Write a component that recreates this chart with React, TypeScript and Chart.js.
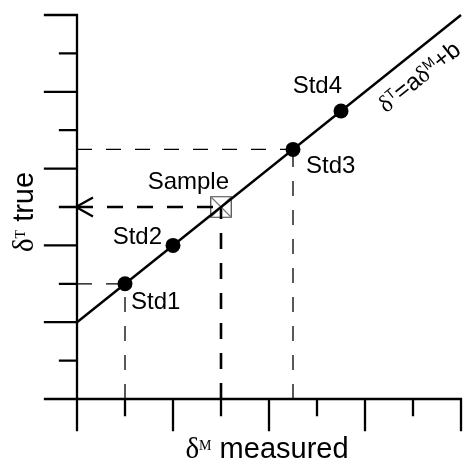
import { useEffect, useRef } from 'react';
import { Chart, registerables } from 'chart.js';

Chart.register(...registerables);

// ---- data ----
const xMajorTicks = [0, 2, 4, 6, 8];
const xMinorTicks = [1, 3, 5, 7];
const yMajorTicks = [0, 2, 4, 6, 8, 10];
const yMinorTicks = [1, 3, 5, 7, 9];

const stdLabels = ['Std1', 'Std2', 'Std3', 'Std4'];
const stdX = [1, 2, 4.5, 5.5];
const stdY = [3, 4, 6.5, 7.5];
const guidedStd = [0, 2];

const sampleLabel = 'Sample';
const sampleX = [3];
const sampleY = [5];

const fitX = [0, 8];
const fitY = [2, 10];
const fitLabelAt = 6.84;

// ---- styles (pixel offsets for text) ----
const SANS = '"Liberation Sans", Arial, sans-serif';
const SERIF = '"Liberation Serif", "Times New Roman", serif';
const stdLabelOffsets: { dx: number; dy: number; align: CanvasTextAlign }[] = [
  { dx: 6, dy: 25, align: 'left' },
  { dx: -11, dy: -1, align: 'right' },
  { dx: 13, dy: 24, align: 'left' },
  { dx: 1, dy: -18, align: 'right' },
];
const sampleLabelOffset = { dx: 8, dy: -18, align: 'right' as CanvasTextAlign };

type Seg = { t: string; font: string; dy?: number };

function drawRich(ctx: CanvasRenderingContext2D, segs: Seg[], x: number, y: number, align: 'left' | 'center' | 'right') {
  let w = 0;
  const widths = segs.map((s) => {
    ctx.font = s.font;
    const m = ctx.measureText(s.t).width;
    w += m;
    return m;
  });
  let cx = align === 'left' ? x : align === 'center' ? x - w / 2 : x - w;
  ctx.textAlign = 'left';
  ctx.textBaseline = 'alphabetic';
  segs.forEach((s, i) => {
    ctx.font = s.font;
    ctx.fillText(s.t, cx, y + (s.dy || 0));
    cx += widths[i];
  });
}

const pts = (xs: number[], ys: number[]) => xs.map((x, i) => ({ x, y: ys[i] }));

const axesPlugin = {
  id: 'customAxes',
  beforeDatasetsDraw(chart: any) {
    const ctx: CanvasRenderingContext2D = chart.ctx;
    const xs = chart.scales.x;
    const ys = chart.scales.y;
    const x0 = xs.getPixelForValue(xs.min);
    const x1 = xs.getPixelForValue(xs.max);
    const y0 = ys.getPixelForValue(ys.min);
    const y1 = ys.getPixelForValue(ys.max);
    ctx.save();
    ctx.strokeStyle = '#000';
    ctx.lineWidth = 2.3;
    ctx.lineCap = 'square';
    ctx.beginPath();
    ctx.moveTo(x0, y1);
    ctx.lineTo(x0, y0);
    ctx.lineTo(x1, y0);
    xMajorTicks.forEach((v) => {
      const p = xs.getPixelForValue(v);
      ctx.moveTo(p, y0);
      ctx.lineTo(p, y0 + 31);
    });
    xMinorTicks.forEach((v) => {
      const p = xs.getPixelForValue(v);
      ctx.moveTo(p, y0);
      ctx.lineTo(p, y0 + 16);
    });
    yMajorTicks.forEach((v) => {
      const p = ys.getPixelForValue(v);
      ctx.moveTo(x0, p);
      ctx.lineTo(x0 - 32, p);
    });
    yMinorTicks.forEach((v) => {
      const p = ys.getPixelForValue(v);
      ctx.moveTo(x0, p);
      ctx.lineTo(x0 - 17, p);
    });
    ctx.stroke();
    // arrow head at y axis for the sample
    const ay = ys.getPixelForValue(sampleY[0]);
    ctx.lineCap = 'butt';
    ctx.beginPath();
    ctx.moveTo(x0 + 16, ay - 9.5);
    ctx.lineTo(x0 - 1, ay);
    ctx.lineTo(x0 + 16, ay + 9.5);
    ctx.stroke();
    ctx.restore();
  },
  afterDatasetsDraw(chart: any) {
    const ctx: CanvasRenderingContext2D = chart.ctx;
    const xs = chart.scales.x;
    const ys = chart.scales.y;
    ctx.save();
    ctx.fillStyle = '#000';
    const f24 = `24px ${SANS}`;
    stdLabels.forEach((lab, i) => {
      const o = stdLabelOffsets[i];
      ctx.font = f24;
      ctx.textAlign = o.align;
      ctx.textBaseline = 'alphabetic';
      ctx.fillText(lab, xs.getPixelForValue(stdX[i]) + o.dx, ys.getPixelForValue(stdY[i]) + o.dy);
    });
    ctx.textAlign = sampleLabelOffset.align;
    ctx.fillText(sampleLabel, xs.getPixelForValue(sampleX[0]) + sampleLabelOffset.dx, ys.getPixelForValue(sampleY[0]) + sampleLabelOffset.dy);

    // fit label along the line
    const slope = (fitY[1] - fitY[0]) / (fitX[1] - fitX[0]);
    const lx = fitLabelAt;
    const ly = fitY[0] + slope * (lx - fitX[0]);
    const px = xs.getPixelForValue(lx);
    const py = ys.getPixelForValue(ly);
    const ex = xs.getPixelForValue(fitX[1]) - xs.getPixelForValue(fitX[0]);
    const ey = ys.getPixelForValue(fitY[1]) - ys.getPixelForValue(fitY[0]);
    const ang = Math.atan2(ey, ex);
    ctx.save();
    ctx.translate(px, py);
    ctx.rotate(ang);
    drawRich(
      ctx,
      [
        { t: 'δ', font: `24px ${SERIF}` },
        { t: 'T', font: `14px ${SANS}`, dy: -8 },
        { t: '=a', font: `24px ${SANS}` },
        { t: 'δ', font: `24px ${SERIF}` },
        { t: 'M', font: `14px ${SANS}`, dy: -8 },
        { t: '+b', font: `24px ${SANS}` },
      ],
      0,
      30,
      'center'
    );
    ctx.restore();

    // x axis title
    drawRich(
      ctx,
      [
        { t: 'δ', font: `29px ${SERIF}` },
        { t: 'M', font: `14px ${SERIF}`, dy: -8 },
        { t: ' measured', font: `29px ${SANS}` },
      ],
      267,
      458,
      'center'
    );
    // y axis title
    ctx.save();
    ctx.translate(33, 212);
    ctx.rotate(-Math.PI / 2);
    drawRich(
      ctx,
      [
        { t: 'δ', font: `29px ${SERIF}` },
        { t: 'T', font: `14px ${SERIF}`, dy: -8 },
        { t: ' true', font: `29px ${SANS}` },
      ],
      0,
      0,
      'center'
    );
    ctx.restore();
    ctx.restore();
  },
};

export default function App() {
  const ref = useRef<HTMLCanvasElement | null>(null);
  useEffect(() => {
    if (!ref.current) return;
    const thin = { borderColor: '#000', borderWidth: 1.3, borderDash: [15, 14], pointRadius: 0, showLine: true, fill: false, clip: false as any, order: 5 };
    const thick = { borderColor: '#000', borderWidth: 2.6, borderDash: [16, 14], pointRadius: 0, showLine: true, fill: false, clip: false as any, order: 5 };
    const guides: any[] = [];
    guidedStd.forEach((i) => {
      guides.push({ ...thin, data: [{ x: 0, y: stdY[i] }, { x: stdX[i], y: stdY[i] }] });
      guides.push({ ...thin, data: [{ x: stdX[i], y: 0 }, { x: stdX[i], y: stdY[i] }] });
    });
    guides.push({ ...thick, data: [{ x: 0, y: sampleY[0] }, { x: sampleX[0], y: sampleY[0] }] });
    guides.push({ ...thick, data: [{ x: sampleX[0], y: 0 }, { x: sampleX[0], y: sampleY[0] }] });

    const chart = new Chart(ref.current, {
      type: 'scatter',
      data: {
        datasets: [
          {
            data: pts(sampleX, sampleY),
            pointStyle: 'rect',
            pointRadius: 14.5,
            backgroundColor: '#fff',
            borderColor: '#444',
            borderWidth: 1.2,
            order: 6,
            clip: false as any,
          },
          ...guides,
          {
            data: pts(sampleX, sampleY),
            pointStyle: 'crossRot',
            pointRadius: 14.5,
            borderColor: '#777',
            borderWidth: 1.2,
            order: 4,
            clip: false as any,
          },
          {
            data: pts(fitX, fitY),
            showLine: true,
            borderColor: '#000',
            borderWidth: 2.4,
            pointRadius: 0,
            order: 3,
            clip: false as any,
          },
          {
            data: pts(stdX, stdY),
            pointStyle: 'circle',
            pointRadius: 7.5,
            backgroundColor: '#000',
            borderWidth: 0,
            order: 1,
            clip: false as any,
          },
        ],
      },
      options: {
        animation: false,
        responsive: false,
        devicePixelRatio: 1,
        events: [],
        layout: { autoPadding: false, padding: { left: 77, right: 4, top: 15, bottom: 63 } },
        scales: {
          x: { type: 'linear', min: 0, max: 8, display: false },
          y: { type: 'linear', min: 0, max: 10, display: false },
        },
        plugins: { legend: { display: false }, tooltip: { enabled: false } },
      },
      plugins: [axesPlugin],
    });
    return () => chart.destroy();
  }, []);
  return (
    <div style={{ position: 'absolute', left: 0, top: 0, width: 465, height: 462, background: '#fff' }}>
      <canvas ref={ref} width={465} height={462} />
    </div>
  );
}
